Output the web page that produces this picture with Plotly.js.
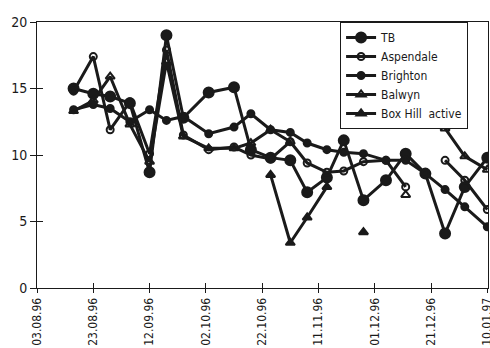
<!DOCTYPE html>
<html><head><meta charset="utf-8">
<script src="https://cdn.plot.ly/plotly-3.0.1.min.js"></script>
<style>html,body{margin:0;padding:0;background:#fff}#chart{width:490px;height:348px}</style>
</head><body><div id="chart"></div>
<script>
const dates = ['1996-08-16','1996-08-23','1996-08-29','1996-09-05','1996-09-12','1996-09-18','1996-09-24','1996-10-03','1996-10-12','1996-10-18','1996-10-25','1996-11-01','1996-11-07','1996-11-14','1996-11-20','1996-11-27','1996-12-05','1996-12-12','1996-12-19','1996-12-26','1997-01-02','1997-01-10'];
const tb        = [15.0,14.6,14.4,13.9, 8.7,19.0,12.8,14.7,15.1,10.4, 9.8, 9.6, 7.2, 8.3,11.1, 6.6, 8.1,10.1, 8.6, 4.1, 7.6, 9.8];
const aspendale = [14.8,17.4,11.9,14.0,10.1,17.9,11.5,10.4,10.6,10.0, 9.7,11.0, 9.4, 8.7, 8.8, 9.5, 9.6, 7.6,null, 9.6, 8.1, 5.9];
const brighton  = [13.4,13.8,13.5,12.5,13.4,12.6,12.9,11.6,12.1,13.1,11.9,11.7,10.9,10.4,10.2,10.1, 9.6, 9.6, 8.6, 7.4, 6.1, 4.6];
const balwyn    = [13.3,14.1,15.9,12.3, 9.5,17.0,11.4,10.5,10.5,10.9,11.9,11.0,null,null,null,null,null, 7.0,null,12.0, 9.9, 8.9];
const boxhill   = [null,null,null,null,null,null,null,null,null,null, 8.5, 3.4, 5.3, 7.6,null, 4.2,null,null,null,null,null,null];
const names = ['TB','Aspendale','Brighton','Balwyn','Box Hill  active'];
const yTicks = [0,5,10,15,20];

const ink = '#1a1a1a';
const F = '"DejaVu Sans Condensed", "Liberation Sans Narrow", sans-serif';
const series = [tb, aspendale, brighton, balwyn, boxhill];
const symbols = ['circle','circle-open','circle','triangle-up-open','triangle-up'];
const sizes = [10,7,7,8,8];
const traces = series.map((s,i)=>({
  type:'scatter', mode:'lines+markers', name:names[i], x:dates, y:s,
  connectgaps:false,
  line:{color:ink, width:3},
  marker:{symbol:symbols[i], size:sizes[i], color:ink, line:{color:ink, width:2}}
}));
// empty trace so that the overlay axes (inner half of the crossing ticks) are drawn
traces.push({type:'scatter', mode:'markers', x:[], y:[], xaxis:'x2', yaxis:'y2', showlegend:false, hoverinfo:'skip'});

const xRange = ['1996-08-03','1997-01-10 06:00'];
const layout = {
  width:490, height:348,
  margin:{l:37, r:2, t:22, b:60},
  paper_bgcolor:'#fff', plot_bgcolor:'#fff',
  font:{family:F, size:12, color:ink},
  showlegend:true,
  legend:{x:0.672, y:1, xanchor:'left', yanchor:'top', bgcolor:'#fff', bordercolor:ink, borderwidth:1,
          font:{family:F, size:12, color:ink}, tracegroupgap:0, itemwidth:30},
  xaxis:{type:'date', range:xRange, tick0:'1996-08-03', dtick:20*86400000,
         tickformat:'%d.%m.%y', tickangle:-90, ticks:'outside', ticklen:4, tickcolor:ink,
         ticklabeloverflow:'allow',
         showline:true, linecolor:ink, linewidth:1, mirror:true, showgrid:false, zeroline:false,
         tickfont:{family:F, size:12, color:ink}},
  yaxis:{range:[0,20], tickvals:yTicks, ticktext:yTicks.map(String), ticks:'outside', ticklen:6, tickcolor:ink,
         showline:true, linecolor:ink, linewidth:1, mirror:true, showgrid:false, zeroline:false,
         tickfont:{family:F, size:14, color:ink}},
  xaxis2:{type:'date', overlaying:'x', anchor:'y2', range:xRange, tick0:'1996-08-03', dtick:20*86400000,
          ticks:'inside', ticklen:5, tickcolor:ink, showticklabels:false, showline:false, showgrid:false, zeroline:false},
  yaxis2:{overlaying:'y', anchor:'x2', range:[0,20], tickvals:yTicks, ticks:'inside', ticklen:6, tickcolor:ink,
          showticklabels:false, showline:false, showgrid:false, zeroline:false}
};
Plotly.newPlot('chart', traces, layout, {displayModeBar:false, staticPlot:true});
</script></body></html>
